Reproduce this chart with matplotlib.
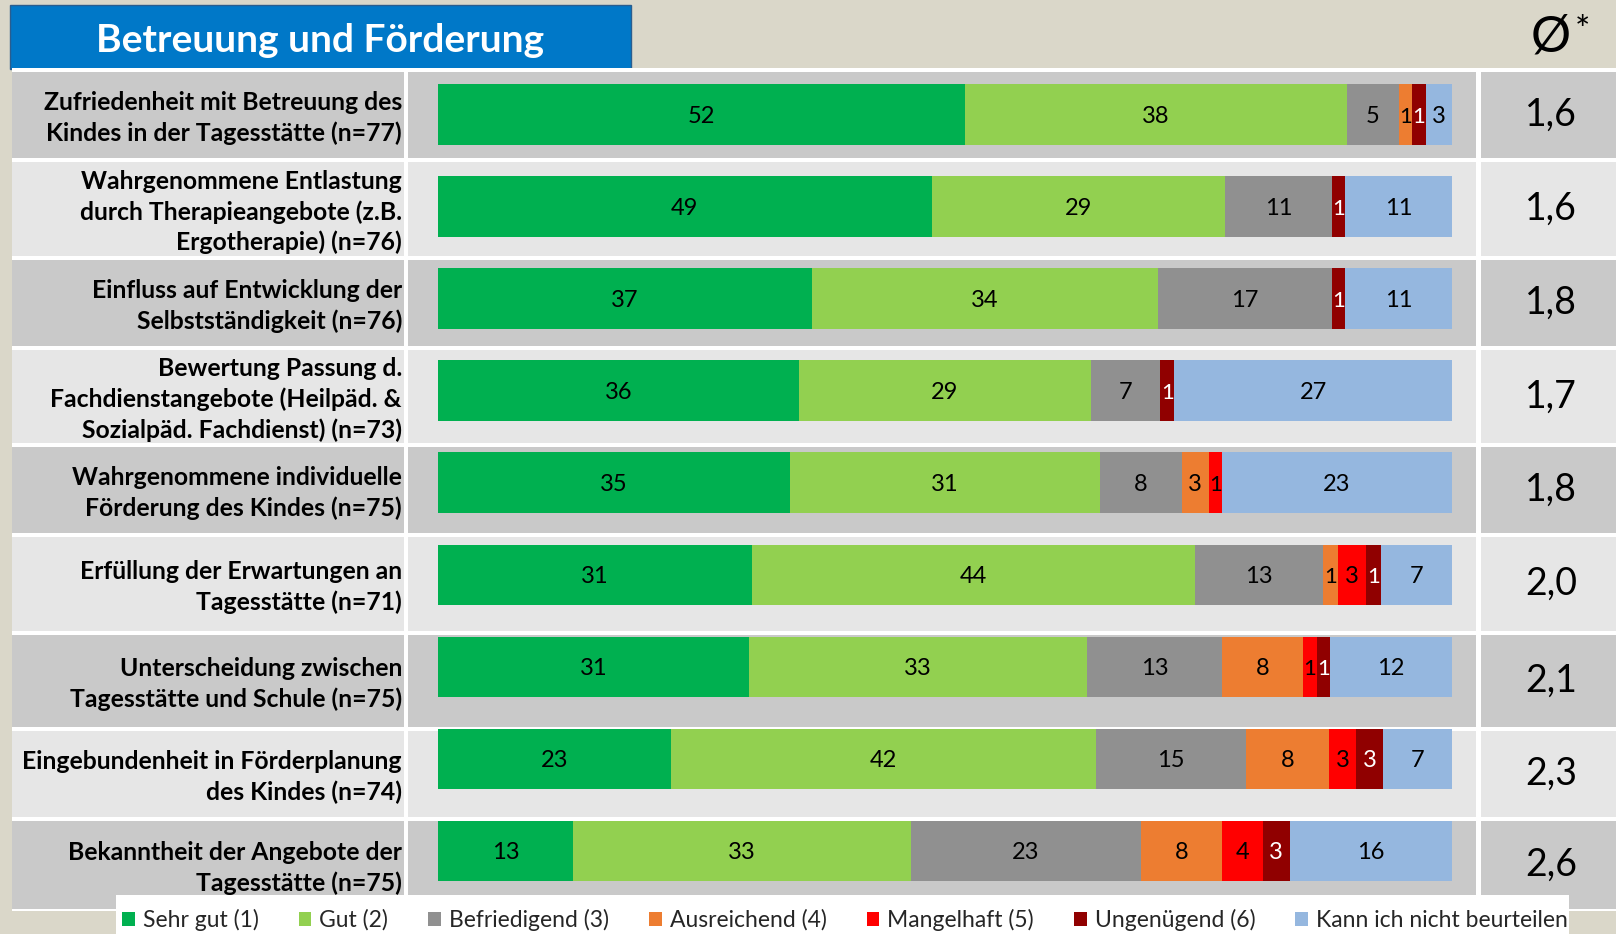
import matplotlib
matplotlib.use("Agg")
import matplotlib.pyplot as plt
from matplotlib.patches import Rectangle, Patch

plt.rcParams['font.family'] = ['Lato', 'DejaVu Sans']

# --- data ---
categories = [
    "Zufriedenheit mit Betreuung des\nKindes in der Tagesstätte (n=77)",
    "Wahrgenommene Entlastung\ndurch Therapieangebote (z.B.\nErgotherapie) (n=76)",
    "Einfluss auf Entwicklung der\nSelbstständigkeit (n=76)",
    "Bewertung Passung d.\nFachdienstangebote (Heilpäd. &\nSozialpäd. Fachdienst) (n=73)",
    "Wahrgenommene individuelle\nFörderung des Kindes (n=75)",
    "Erfüllung der Erwartungen an\nTagesstätte (n=71)",
    "Unterscheidung zwischen\nTagesstätte und Schule (n=75)",
    "Eingebundenheit in Förderplanung\ndes Kindes (n=74)",
    "Bekanntheit der Angebote der\nTagesstätte (n=75)",
]
n_total      = [77, 76, 76, 73, 75, 71, 75, 74, 75]
# answer counts per category, estimated from the printed percentages and n
sehr_gut     = [40, 37, 28, 26, 26, 22, 23, 17, 10]
gut          = [29, 22, 26, 21, 23, 31, 25, 31, 25]
befriedigend = [4, 8, 13, 5, 6, 9, 10, 11, 17]
ausreichend  = [1, 0, 0, 0, 2, 1, 6, 6, 6]
mangelhaft   = [0, 0, 0, 0, 1, 2, 1, 2, 3]
ungenuegend  = [1, 1, 1, 1, 0, 1, 1, 2, 2]
kann_nicht   = [2, 8, 8, 20, 17, 5, 9, 5, 12]
averages     = ["1,6", "1,6", "1,8", "1,7", "1,8", "2,0", "2,1", "2,3", "2,6"]
series_names = ["Sehr gut (1)", "Gut (2)", "Befriedigend (3)", "Ausreichend (4)",
                "Mangelhaft (5)", "Ungenügend (6)", "Kann ich nicht beurteilen"]

series = [sehr_gut, gut, befriedigend, ausreichend, mangelhaft, ungenuegend, kann_nicht]
colors = ["#00B050", "#92D050", "#909090", "#ED7D31", "#FF0000", "#900000", "#95B7DF"]
text_colors = ["black", "black", "black", "black", "black", "white", "black"]

# --- layout (pixels) ---
W, H = 1616, 934
row_top = [72, 162, 260, 350, 447, 537, 635, 731, 821]
row_bot = [158, 256, 346, 443, 533, 631, 727, 817, 909]

fig = plt.figure(figsize=(W / 100, H / 100), dpi=100)
fig.patch.set_facecolor("#DAD7C9")

bg = fig.add_axes([0, 0, 1, 1])
bg.set_xlim(0, W)
bg.set_ylim(H, 0)
bg.axis("off")

# title box
bg.add_patch(Rectangle((10, 5), 621, 64, fc="#0078C8", ec="#2A5D8F", lw=1))
bg.text(320, 40, "Betreuung und Förderung", color="white", fontsize=28,
        fontweight="bold", ha="center", va="center")
bg.text(1551, 37, "Ø", fontsize=36, ha="center", va="center", color="black")
bg.text(1582, 31, "*", fontsize=26, ha="center", va="center", color="black")

# table
bg.add_patch(Rectangle((12, 68), W - 12, 843, fc="white", ec="none"))
for i, (t, b) in enumerate(zip(row_top, row_bot)):
    fc = "#C9C9C9" if i % 2 == 0 else "#E6E6E6"
    bg.add_patch(Rectangle((12, t), 392, b - t, fc=fc, ec="none"))
    bg.add_patch(Rectangle((408, t), 1068, b - t, fc=fc, ec="none"))
    bg.add_patch(Rectangle((1481, t), W - 1481, b - t, fc=fc, ec="none"))
    yc = (t + b) / 2
    bg.text(402, yc + 3, categories[i], ha="right", va="center", fontsize=17.8,
            fontweight="bold", linespacing=1.36, color="black")
    bg.text(1551, yc, averages[i], ha="center", va="center", fontsize=27,
            color="black")

# legend box
bg.add_patch(Rectangle((116, 895), 1453, 45, fc="white", ec="none"))

# --- stacked bars (share of respondents in %) ---
top_px, bot_px = 68.7, 897.0
ax = fig.add_axes([438 / W, 1 - bot_px / H, 1014 / W, (bot_px - top_px) / H])
ax.set_xlim(0, 100)
ax.set_ylim(len(categories) - 0.5, -0.5)
ax.axis("off")

left = [0.0] * len(categories)
for vals, col, tc in zip(series, colors, text_colors):
    widths = [v / n * 100 for v, n in zip(vals, n_total)]
    ax.barh(range(len(categories)), widths, left=left, height=0.66, color=col,
            edgecolor="none")
    for i, w in enumerate(widths):
        if w > 0:
            ax.text(left[i] + w / 2, i + 0.02, str(int(w + 0.5)), ha="center",
                    va="center", fontsize=17 if w > 2 else 16, color=tc)
    left = [l + w for l, w in zip(left, widths)]

handles = [Patch(fc=c, ec="none") for c in colors]
fig.legend(handles, series_names, ncol=7, loc="center",
           bbox_to_anchor=(845 / W, 1 - 920 / H), frameon=False, fontsize=16.5,
           handlelength=0.55, handleheight=0.55, handletextpad=0.35,
           columnspacing=1.75, labelcolor="#262626")

fig.savefig("out.png", dpi=100, facecolor=fig.get_facecolor())
